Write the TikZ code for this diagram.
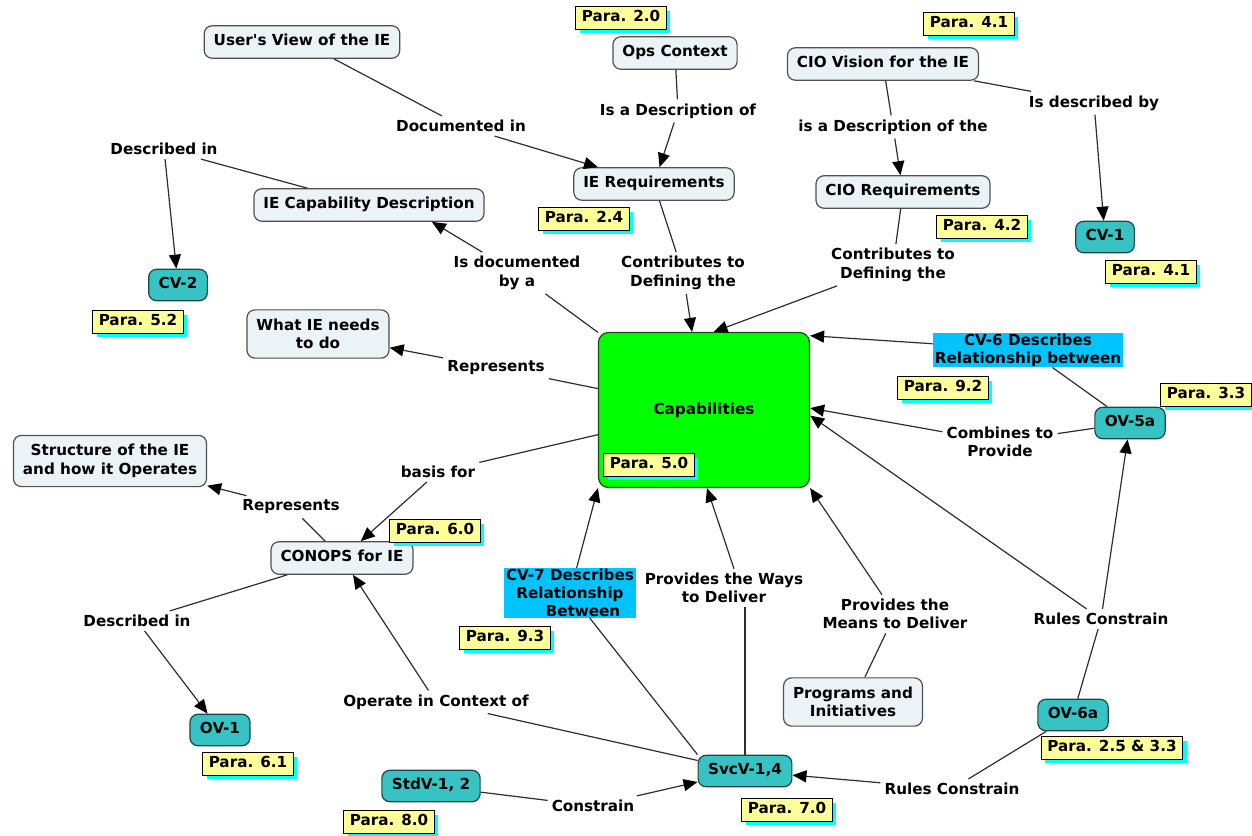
\documentclass[tikz,border=0pt]{standalone}
\usepackage{fontspec}
\setmainfont{DejaVu Sans}[Ligatures=TeXOff]
\usetikzlibrary{arrows.meta,shadows}
\definecolor{conceptfill}{RGB}{236,243,246}
\definecolor{conceptline}{RGB}{80,80,80}
\definecolor{tealfill}{RGB}{55,195,195}
\definecolor{tealline}{RGB}{30,70,70}
\definecolor{capfill}{RGB}{0,255,0}
\definecolor{capline}{RGB}{30,70,30}
\definecolor{notefill}{RGB}{255,255,153}
\definecolor{noteshadow}{RGB}{0,255,255}
\definecolor{relfill}{RGB}{0,195,255}
\definecolor{linkline}{RGB}{45,45,45}

\begin{document}
\begin{tikzpicture}[x=1pt,y=-1pt,
  every node/.style={font=\fontsize{15.2}{18.5}\selectfont\bfseries, align=center},
  one/.style={text height=11pt,text depth=3.5pt},
  concept/.style={draw=conceptline,fill=conceptfill,line width=1.2pt,rounded corners=8pt,inner xsep=9.5pt,inner ysep=9pt},
  view/.style={draw=tealline,fill=tealfill,line width=1.2pt,rounded corners=8pt,inner xsep=10pt,inner ysep=8.5pt,one},
  core/.style={draw=capline,fill=capfill,line width=1.2pt,rounded corners=10pt,minimum width=211pt,minimum height=155pt},
  note/.style={draw=black,fill=notefill,line width=0.9pt,inner xsep=6pt,inner ysep=4pt,one,
    drop shadow={shadow xshift=4pt,shadow yshift=-4pt,fill=noteshadow,opacity=1}},
  relbox/.style={fill=relfill,inner xsep=2pt,inner ysep=1pt,font=\fontsize{15.2}{18}\selectfont\bfseries},
  phrase/.style={inner sep=4pt},
  link/.style={draw=linkline,line width=1.2pt},
  arr/.style={link,-{Triangle[length=14pt,width=12pt,fill=black,color=black]}},
]
\useasboundingbox (0,0) rectangle (1252,835);

% concepts
\node[concept,one] (uv)     at (302,42)  {User's View of the IE};
\node[concept,one] (ops)    at (675,53)  {Ops Context};
\node[concept,one] (ier)    at (654,184) {IE Requirements};
\node[concept,one] (civ)    at (883,64)  {CIO Vision for the IE};
\node[concept,one] (cir)    at (903,192) {CIO Requirements};
\node[concept,one] (icd)    at (369,205) {IE Capability Description};
\node[concept]     (what)   at (318,334) {What IE needs\\to do};
\node[concept]     (struct) at (110,461) {Structure of the IE\\and how it Operates};
\node[concept,one] (conops) at (342,558) {CONOPS for IE};
\node[concept]     (prog)   at (853,702) {Programs and\\Initiatives};

% architecture views
\node[view] (cv2)  at (178,285)  {CV-2};
\node[view] (cv1)  at (1105,237) {CV-1};
\node[view] (ov5a) at (1130,423) {OV-5a};
\node[view] (ov6a) at (1073,715) {OV-6a};
\node[view] (svc)  at (745,771)  {SvcV-1,4};
\node[view] (std)  at (431,786)  {StdV-1, 2};
\node[view] (ov1)  at (220,730)  {OV-1};

% central concept
\node[core] (cap) at (704,410) {Capabilities};

% relationship boxes
\node[relbox] (cv6l) at (1028,350) {CV-6 Describes\\Relationship between};
\node[relbox] (cv7l) at (570,593)  {CV-7 Describes\\Relationship\\\hspace*{26pt}Between};

% linking phrases
\node[phrase] (l1)  at (461,126)  {Documented in};
\node[phrase] (l2)  at (678,111)  {Is a Description of};
\node[phrase] (l3)  at (893,127)  {is a Description of the};
\node[phrase] (l4)  at (1094,103) {Is described by};
\node[phrase] (l5)  at (164,149)  {Described in};
\node[phrase] (l6)  at (517,273)  {Is documented\\by a};
\node[phrase] (l7)  at (683,273)  {Contributes to\\Defining the};
\node[phrase] (l8)  at (893,265)  {Contributes to\\Defining the};
\node[phrase] (l9)  at (496,368)  {Represents};
\node[phrase] (l10) at (438,472)  {basis for};
\node[phrase] (l11) at (291,507)  {Represents};
\node[phrase] (l12) at (137,621)  {Described in};
\node[phrase] (l13) at (1000,442) {Combines to\\Provide};
\node[phrase] (l14) at (1101,619) {Rules Constrain};
\node[phrase] (l15) at (952,789)  {Rules Constrain};
\node[phrase] (l16) at (724,588)  {Provides the Ways\\to Deliver};
\node[phrase] (l17) at (895,614)  {Provides the\\Means to Deliver};
\node[phrase] (l18) at (436,702)  {Operate in Context of};
\node[phrase] (l19) at (593,806)  {Constrain};

% connections
\draw[link] (uv) -- (l1);   \draw[arr] (l1) -- (ier);
\draw[link] (ops) -- (l2);  \draw[arr] (l2) -- (ier);
\draw[link] (civ) -- (l3);  \draw[arr] (l3) -- (cir);
\draw[link] (civ) -- (l4);  \draw[arr] (l4) -- (cv1);
\draw[link] (icd) -- (l5);  \draw[arr] (l5) -- (cv2);
\draw[link] (cap) -- (l6);  \draw[arr] (l6) -- (icd.-15);
\draw[link] (ier) -- (l7);  \draw[arr] (l7) -- (cap);
\draw[link] (cir) -- (l8);  \draw[arr] (l8) -- (cap.83);
\draw[link] (cap) -- (l9);  \draw[arr] (l9) -- (what);
\draw[link] (cap) -- (l10); \draw[arr] (l10) -- (conops);
\draw[link] (conops) -- (l11); \draw[arr] (l11) -- (struct);
\draw[link] (conops) -- (l12); \draw[arr] (l12) -- (ov1);
\draw[link] (ov5a) -- (cv6l); \draw[arr] (cv6l) -- (cap.35);
\draw[link] (ov5a) -- (l13); \draw[arr] (l13) -- (cap.1);
\draw[link] (ov6a) -- (l14); \draw[arr] (l14) -- (ov5a); \draw[arr] (l14) -- (cap.-3);
\draw[link] (ov6a) -- (l15); \draw[arr] (l15) -- (svc);
\draw[link] (svc.north west) -- (cv7l); \draw[arr] (cv7l) -- (cap.south west);
\draw[link] (svc.north) -- (l16.south -| svc.north);
\draw[arr] ([xshift=10pt]l16.north) -- ([xshift=3pt]cap.south);
\draw[link] (prog) -- (l17); \draw[arr] (l17) -- (cap.south east);
\draw[link] (svc) -- (l18); \draw[arr] (l18) -- (conops);
\draw[link] (std) -- (l19); \draw[arr] (l19) -- (svc);

% paragraph references
\node[note] (p20)  at (621,18)   {Para. 2.0};
\node[note] (p41a) at (969,24)   {Para. 4.1};
\node[note] (p24)  at (584,219)  {Para. 2.4};
\node[note] (p42)  at (982,227)  {Para. 4.2};
\node[note] (p41b) at (1151,272) {Para. 4.1};
\node[note] (p52)  at (138,322)  {Para. 5.2};
\node[note] (p92)  at (943,388)  {Para. 9.2};
\node[note] (p33)  at (1206,395) {Para. 3.3};
\node[note] (p50)  at (649,465)  {Para. 5.0};
\node[note] (p60)  at (435,531)  {Para. 6.0};
\node[note] (p93)  at (505,638)  {Para. 9.3};
\node[note] (p61)  at (248,764)  {Para. 6.1};
\node[note] (p80)  at (389,822)  {Para. 8.0};
\node[note] (p70)  at (787,810)  {Para. 7.0};
\node[note] (p25)  at (1112,748) {Para. 2.5 \& 3.3};
\end{tikzpicture}
\end{document}
